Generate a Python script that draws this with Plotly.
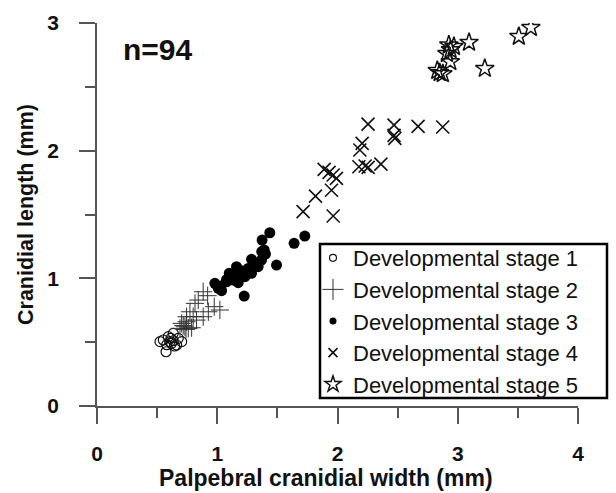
import plotly.graph_objects as go

# ---- data ----
s1_x = [0.551, 0.593, 0.634, 0.676, 0.620, 0.662, 0.574, 0.634, 0.607, 0.704, 0.524, 0.645, 0.580, 0.615]
s1_y = [0.517, 0.543, 0.569, 0.530, 0.491, 0.478, 0.425, 0.511, 0.504, 0.504, 0.504, 0.470, 0.480, 0.530]

s2_x = [0.883, 0.920, 0.842, 0.815, 0.975, 1.022, 0.926, 0.883, 0.828, 0.773, 0.745, 0.704, 0.731,
        0.759, 0.787, 0.690, 0.717, 0.745, 0.800, 0.740]
s2_y = [0.895, 0.864, 0.830, 0.804, 0.778, 0.752, 0.738, 0.699, 0.673, 0.738, 0.699, 0.647, 0.621,
        0.608, 0.613, 0.608, 0.630, 0.660, 0.700, 0.600]

s3_x = [1.437, 1.728, 1.639, 1.373, 1.390, 1.401, 1.493, 1.368, 1.285, 1.340, 1.257, 1.160, 1.174,
        1.230, 1.285, 1.077, 1.133, 1.174, 0.980, 1.008, 1.036, 1.224, 1.370, 1.077, 1.030, 1.320,
        1.200, 1.100]
s3_y = [1.357, 1.331, 1.274, 1.300, 1.222, 1.190, 1.104, 1.143, 1.149, 1.091, 1.078, 1.091, 1.026,
        1.013, 1.039, 0.973, 0.987, 0.966, 0.961, 0.922, 0.903, 0.861, 1.210, 0.990, 0.940, 1.120,
        1.060, 1.040]

s4_x = [2.254, 2.470, 2.670, 2.875, 2.477, 2.205, 2.186, 2.178, 2.255, 2.361, 1.889, 1.964, 1.991,
        1.950, 1.817, 1.714, 1.964, 2.230, 1.930, 2.470]
s4_y = [2.208, 2.200, 2.190, 2.185, 2.096, 2.057, 2.005, 1.874, 1.869, 1.895, 1.853, 1.809, 1.783,
        1.690, 1.644, 1.522, 1.488, 1.880, 1.830, 2.120]

s5_x = [2.926, 2.968, 3.094, 2.938, 2.830, 2.876, 3.225, 3.508, 3.608, 2.940, 2.850, 2.910]
s5_y = [2.827, 2.815, 2.848, 2.696, 2.627, 2.602, 2.643, 2.894, 2.964, 2.790, 2.610, 2.760]

names = ["Developmental stage 1", "Developmental stage 2", "Developmental stage 3",
         "Developmental stage 4", "Developmental stage 5"]

x_title = "Palpebral cranidial width (mm)"
y_title = "Cranidial length (mm)"
n_label = "n=94"

series = [(s1_x, s1_y), (s2_x, s2_y), (s3_x, s3_y), (s4_x, s4_y), (s5_x, s5_y)]
symbols = ["circle-open", "cross-thin-open", "circle", "x-thin-open", "star-open"]
sizes = [10, 13, 11, 13, 14]
widths = [1.2, 1.0, 0, 1.6, 1.5]
colors = ["#111", "#333", "#000", "#111", "#111"]
leg_sizes = [7, 15, 7, 9, 12]

fig = go.Figure()
for (xs, ys), sym, sz, w, c in zip(series, symbols, sizes, widths, colors):
    fig.add_trace(go.Scatter(
        x=xs, y=ys, mode="markers", showlegend=False,
        marker=dict(symbol=sym, size=sz, color=c, line=dict(color=c, width=w)),
    ))
for i, (nm, sym, sz, w, c) in enumerate(zip(names, symbols, leg_sizes, widths, colors)):
    fig.add_trace(go.Scatter(
        x=[None], y=[None], mode="markers", name=nm, legendgroup=str(i),
        marker=dict(symbol=sym, size=sz, color=c, line=dict(color=c, width=w)),
    ))

axis_common = dict(
    showline=True, linecolor="#555", linewidth=1.5, automargin=False,
    ticks="outside", ticklen=16, tickwidth=1.5, tickcolor="#555",
    showgrid=False, zeroline=False,
    tickfont=dict(size=21, color="#111", family="Liberation Sans, Arial", weight="bold"),
    minor=dict(ticks="outside", ticklen=10, tickwidth=1.5, tickcolor="#555", dtick=0.5, showgrid=False),
)

fig.update_layout(
    width=616, height=493,
    margin=dict(l=97, r=38, t=23, b=87, autoexpand=False),
    paper_bgcolor="white", plot_bgcolor="white",
    font=dict(family="Liberation Sans, Arial", color="#111"),
    xaxis=dict(range=[0, 4], dtick=1, tick0=0, ticklabelstandoff=12, **axis_common),
    yaxis=dict(range=[0, 3], dtick=1, tick0=0, ticklabelstandoff=16,
               title=dict(text=y_title, standoff=8,
                          font=dict(size=21.5, weight="bold", color="#111")),
               **axis_common),
    legend=dict(x=(313 - 97) / 481, y=(406 - 237) / 383, xanchor="left", yanchor="top",
                borderwidth=0, bgcolor="rgba(0,0,0,0)",
                font=dict(size=22, color="#111"), traceorder="grouped", tracegroupgap=0,
                itemwidth=30),
    shapes=[dict(type="rect", xref="paper", yref="paper",
                 x0=(320 - 97) / 481, x1=(607 - 97) / 481,
                 y0=(406 - 398) / 383, y1=(406 - 244) / 383,
                 line=dict(color="#000", width=2.5), fillcolor="white", layer="above")],
    annotations=[
        dict(text=n_label, x=(158 - 97) / 481, y=(406 - 49) / 383,
             xref="paper", yref="paper", xanchor="center", yanchor="middle",
             showarrow=False, font=dict(size=30, weight="bold", color="#111")),
        dict(text=x_title, x=(326 - 97) / 481, y=(406 - 478) / 383,
             xref="paper", yref="paper", xanchor="center", yanchor="middle",
             showarrow=False, font=dict(size=23, weight="bold", color="#111")),
    ],
)

fig.write_html("out.html")
